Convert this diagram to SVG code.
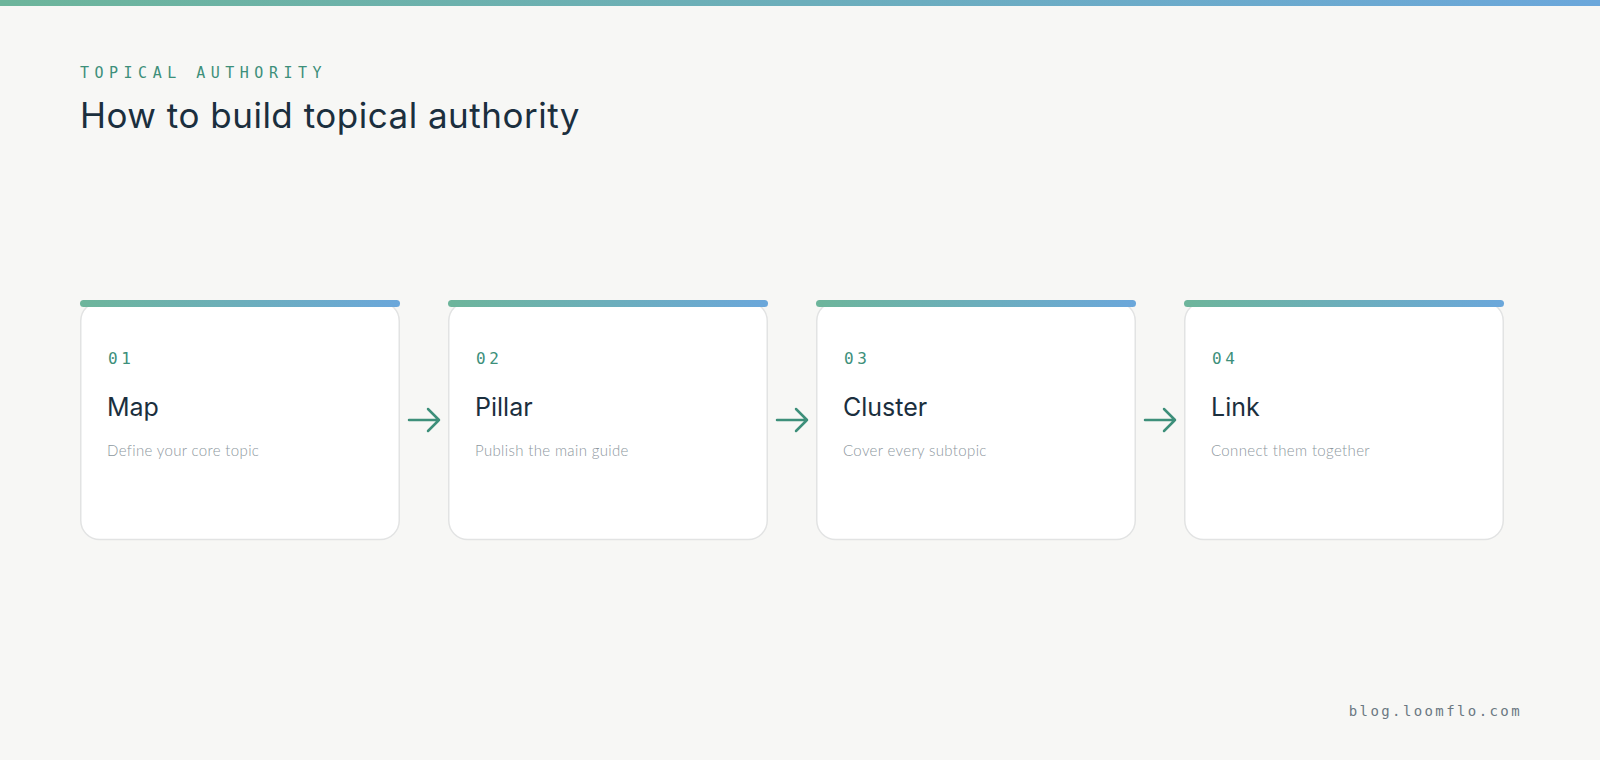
<svg xmlns="http://www.w3.org/2000/svg" width="1600" height="760" viewBox="0 0 1600 760">
<defs>
<linearGradient id="g" x1="0" y1="0" x2="1" y2="0">
<stop offset="0" stop-color="#6db59b"/>
<stop offset="1" stop-color="#6ba7db"/>
</linearGradient>
<style>
.card{fill:#ffffff;stroke:#e2e3e3;stroke-width:1.5}
.num{font-family:"DejaVu Sans Mono","Liberation Mono",monospace;font-size:16px;fill:#3d8f7a;letter-spacing:3.5px}
.ttl{font-family:"Inter","Noto Sans",sans-serif;font-size:25px;fill:#1b2f3e}
.dsc{font-family:"Lato","Noto Sans",sans-serif;font-weight:300;font-size:15px;fill:#8d979e;letter-spacing:0.35px}
.arr{fill:none;stroke:#3d8f7a;stroke-width:2.5;stroke-linecap:round;stroke-linejoin:round}
</style>
</defs>
<rect width="1600" height="760" fill="#f7f7f5"/>
<rect width="1600" height="6" fill="url(#g)"/>
<text x="80" y="78" font-family="DejaVu Sans Mono,Liberation Mono,monospace" font-size="15" fill="#3d8f7a" letter-spacing="5.5">TOPICAL AUTHORITY</text>
<text x="80" y="128" font-family="Inter,Noto Sans,sans-serif" font-size="35" fill="#1b2f3e" letter-spacing="0.5">How to build topical authority</text>
<g id="n1">
<rect class="card" x="80.75" y="302" width="318.5" height="237.5" rx="19"/>
<rect x="80" y="300" width="320" height="7" rx="3.5" fill="url(#g)"/>
<text class="num" x="108" y="363.5">01</text>
<text class="ttl" x="107" y="416">Map</text>
<text class="dsc" x="107" y="456">Define your core topic</text>
</g>
<g id="n2">
<rect class="card" x="448.75" y="302" width="318.5" height="237.5" rx="19"/>
<rect x="448" y="300" width="320" height="7" rx="3.5" fill="url(#g)"/>
<text class="num" x="476" y="363.5">02</text>
<text class="ttl" x="475" y="416">Pillar</text>
<text class="dsc" x="475" y="456">Publish the main guide</text>
</g>
<g id="n3">
<rect class="card" x="816.75" y="302" width="318.5" height="237.5" rx="19"/>
<rect x="816" y="300" width="320" height="7" rx="3.5" fill="url(#g)"/>
<text class="num" x="844" y="363.5">03</text>
<text class="ttl" x="843" y="416">Cluster</text>
<text class="dsc" x="843" y="456">Cover every subtopic</text>
</g>
<g id="n4">
<rect class="card" x="1184.75" y="302" width="318.5" height="237.5" rx="19"/>
<rect x="1184" y="300" width="320" height="7" rx="3.5" fill="url(#g)"/>
<text class="num" x="1212" y="363.5">04</text>
<text class="ttl" x="1211" y="416">Link</text>
<text class="dsc" x="1211" y="456">Connect them together</text>
</g>
<g id="connectors">
<path class="arr" d="M409 420 H439 M428 409 L439 420 L428 431"/>
<path class="arr" d="M777 420 H807 M796 409 L807 420 L796 431"/>
<path class="arr" d="M1145 420 H1175 M1164 409 L1175 420 L1164 431"/>
</g>
<text x="1522" y="716" text-anchor="end" font-family="DejaVu Sans Mono,Liberation Mono,monospace" font-size="14" fill="#6b7882" letter-spacing="2.4">blog.loomflo.com</text>
</svg>
